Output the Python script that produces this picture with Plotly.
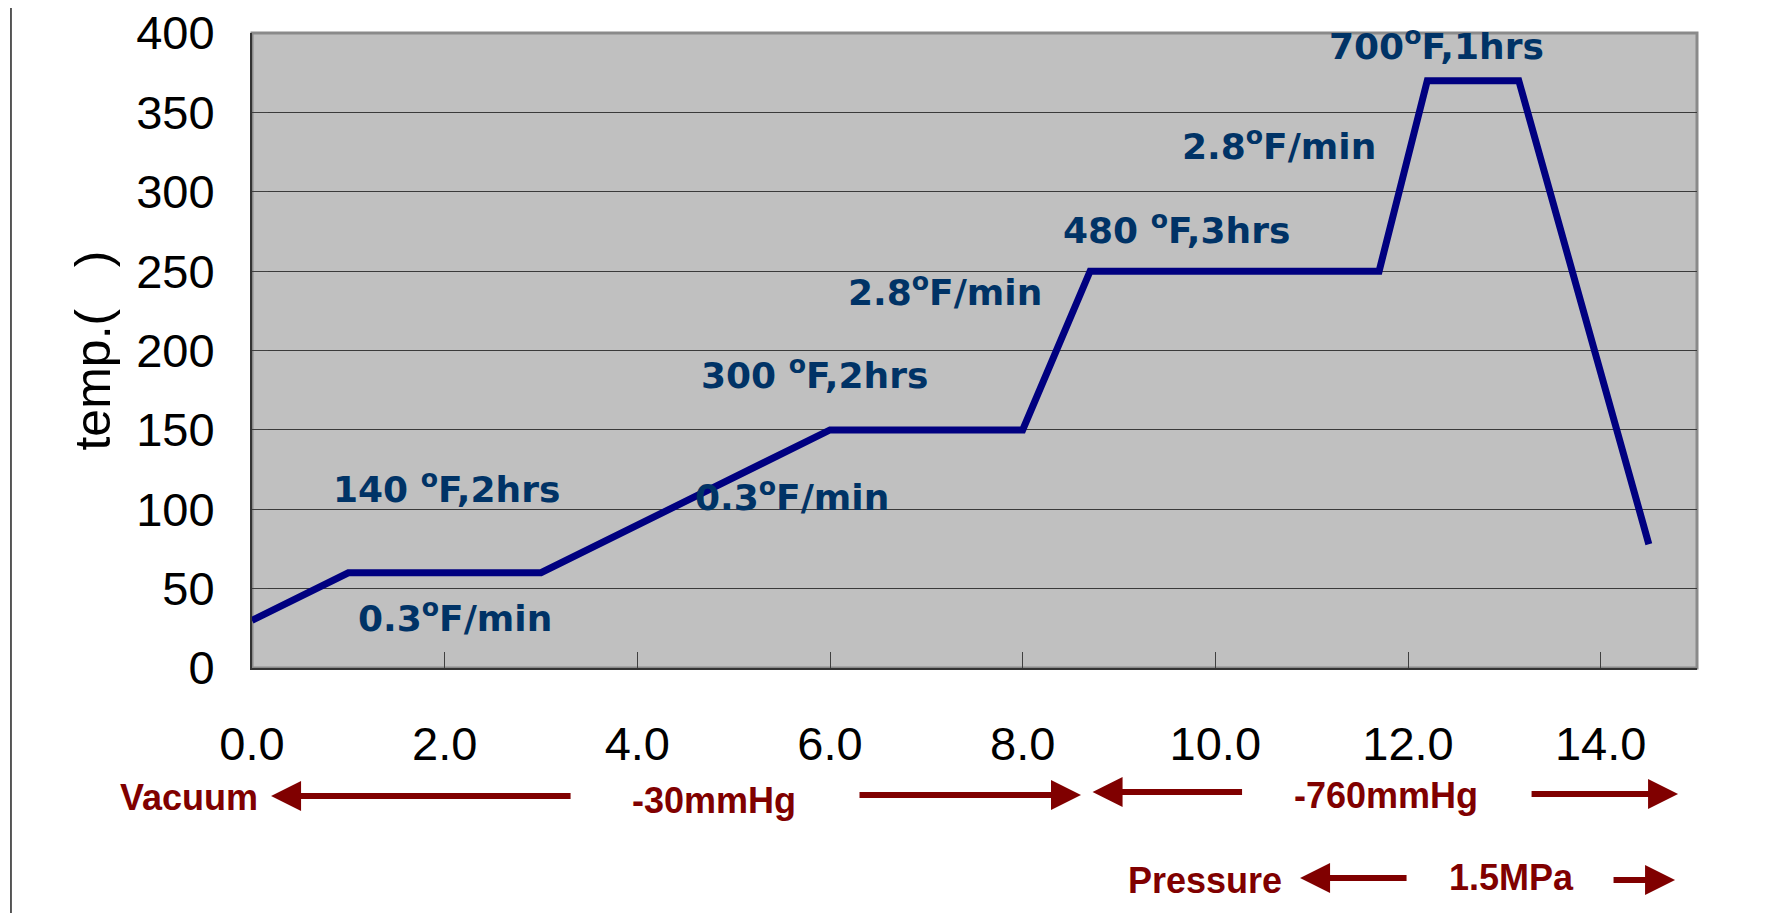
import plotly.graph_objects as go

# ---- data ----
time_hrs = [0.0, 1.0, 3.0, 6.0, 8.0, 8.7, 11.7, 12.2, 13.15, 14.5]
temp = [30, 60, 60, 150, 150, 250, 250, 370, 370, 78]

x_ticks = [0, 2, 4, 6, 8, 10, 12, 14]
x_tick_text = ["0.0", "2.0", "4.0", "6.0", "8.0", "10.0", "12.0", "14.0"]
y_ticks = [0, 50, 100, 150, 200, 250, 300, 350, 400]

step_labels = ["140 <sup>o</sup>F,2hrs", "0.3<sup>o</sup>F/min", "300 <sup>o</sup>F,2hrs",
               "0.3<sup>o</sup>F/min", "2.8<sup>o</sup>F/min", "480 <sup>o</sup>F,3hrs",
               "2.8<sup>o</sup>F/min", "700<sup>o</sup>F,1hrs"]
step_x = [2.02, 2.11, 5.84, 5.61, 7.19, 9.60, 10.66, 12.30]
step_y = [114, 33, 186, 109, 238, 277, 330, 393]

press_labels = ["Vacuum", "-30mmHg", "-760mmHg", "Pressure", "1.5MPa"]

NAVY_TEXT = "#003366"
LINE_C = "#000080"
RED = "#800000"

fig = go.Figure()
fig.add_trace(go.Scatter(x=time_hrs, y=temp, mode="lines",
                         line=dict(color=LINE_C, width=7),
                         showlegend=False, hoverinfo="x+y"))

annotations = []
for t, x, y in zip(step_labels, step_x, step_y):
    annotations.append(dict(x=x, y=y, xref="x", yref="y", text=t, showarrow=False,
                            xanchor="center", yanchor="middle",
                            font=dict(family="DejaVu Sans", size=36, color=NAVY_TEXT,
                                      weight="bold")))

# pressure row texts (paper coords)
press_pos = [(-0.0439, -0.2047), (0.3197, -0.2079), (0.7848, -0.200),
             (0.6595, -0.3339), (0.8713, -0.3307)]
for t, (x, y) in zip(press_labels, press_pos):
    annotations.append(dict(x=x, y=y, xref="paper", yref="paper", text="<b>%s</b>" % t,
                            showarrow=False, xanchor="center", yanchor="middle",
                            font=dict(family="Liberation Sans, Arial", size=36, color=RED)))

# arrows: (tip x, tip y, tail offset px)
arrows = [(0.0132, -0.2016, 301), (0.5737, -0.200, -223), (0.5817, -0.1953, 151),
          (0.9869, -0.1984, -148), (0.7253, -0.3307, 108), (0.9848, -0.3339, -63)]
for x, y, ax in arrows:
    annotations.append(dict(x=x, y=y, xref="paper", yref="paper", text="",
                            showarrow=True, ax=ax, ay=0, axref="pixel", ayref="pixel",
                            arrowhead=2, arrowsize=1.0, arrowwidth=6, arrowcolor=RED,
                            standoff=0))

fig.update_layout(
    width=1769, height=905,
    margin=dict(l=244, r=80, t=25, b=245, autoexpand=False),
    paper_bgcolor="white",
    plot_bgcolor="#C0C0C0",
    annotations=annotations,
    shapes=[
        dict(type="rect", xref="paper", yref="paper", x0=0, x1=1, y0=0, y1=1,
             line=dict(color="#8a8a8a", width=3), layer="below"),
        dict(type="line", xref="paper", yref="paper", x0=-0.1668, x1=-0.1668,
             y0=1.0425, y1=-0.386, line=dict(color="#222222", width=1.5)),
    ],
    xaxis=dict(range=[0, 15], tickvals=x_ticks, ticktext=x_tick_text,
               showgrid=False, zeroline=False, automargin=False,
               showline=True, linecolor="#333333", linewidth=2,
               ticks="inside", ticklen=16, tickcolor="#404040", tickwidth=1,
               ticklabelstandoff=34, ticklabeloverflow="allow",
               tickfont=dict(family="Liberation Sans, Arial", size=47, color="black")),
    yaxis=dict(range=[0, 400], tickvals=y_ticks,
               showgrid=True, gridcolor="#3a3a3a", gridwidth=1, zeroline=False,
               automargin=False,
               showline=True, linecolor="#333333", linewidth=2,
               ticks="inside", ticklen=16, tickcolor="#404040", tickwidth=1,
               ticklabelstandoff=26, ticklabeloverflow="allow",
               tickfont=dict(family="Liberation Sans, Arial", size=47, color="black"),
               title=dict(text="temp.(\u00a0\u00a0\u00a0)", standoff=10,
                          font=dict(family="Liberation Sans, Arial", size=50, color="black"))),
)

fig.write_html("out.html")
